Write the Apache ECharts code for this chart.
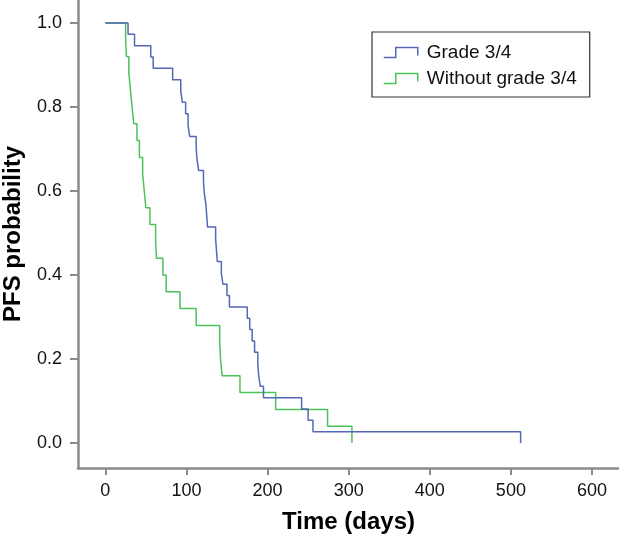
<!DOCTYPE html>
<html>
<head>
<meta charset="utf-8">
<script src="https://cdn.jsdelivr.net/npm/echarts@6/dist/echarts.min.js"></script>
<style>
html,body{margin:0;padding:0;background:#fff;}
#chart{width:619px;height:539px;}
</style>
</head>
<body>
<div id="chart"></div>
<script>
// Kaplan-Meier step data
var gradeTimes = [0,28,36,56,59,83,93,95,99,102,104,112,113,115,121,122,124,125,126,136,137,138,143,145,150,153,175,178,181,184,188,189,191,195,242,250,256,512];
var gradeSurv  = [1.000,0.973,0.946,0.919,0.892,0.865,0.838,0.811,0.784,0.757,0.730,0.703,0.676,0.649,0.622,0.595,0.568,0.541,0.514,0.486,0.459,0.432,0.405,0.378,0.351,0.324,0.297,0.270,0.243,0.216,0.189,0.162,0.135,0.108,0.081,0.054,0.027,0.000];
var withoutTimes = [0,25,26,29,31,33,35,39,42,46,48,50,55,62,63,71,75,92,112,141,142,144,166,210,274,304];
var withoutSurv  = [1.00,0.96,0.92,0.88,0.84,0.80,0.76,0.72,0.68,0.64,0.60,0.56,0.52,0.48,0.44,0.40,0.36,0.32,0.28,0.24,0.20,0.16,0.12,0.08,0.04,0.00];
var xTicks = [0,100,200,300,400,500,600];
var yTicks = [0,0.2,0.4,0.6,0.8,1.0];
var seriesNames = ['Grade 3/4','Without grade 3/4'];
var colors = ['#5467b4','#4cc25a'];

function pairs(t, s){ var out=[]; for(var i=0;i<t.length;i++) out.push([t[i], s[i]]); return out; }

var font = '"Liberation Sans", Arial, Helvetica, sans-serif';
var axisGray = '#8a8a8a';
var stepIcon = 'path://M0,10 L12,10 L12,0 L34,0 L34,8';

var chart = echarts.init(document.getElementById('chart'), null, {renderer:'canvas'});
chart.setOption({
  animation: false,
  backgroundColor: '#fff',
  grid: {left: 78, top: 0, right: 0, bottom: 71, containLabel: false, outerBoundsMode: 'none'},
  xAxis: {
    type: 'value', min: -33.7, max: 633.3,
    splitLine: {show: false},
    axisLine: {show: true, onZero: false, lineStyle: {color: axisGray, width: 2.5}},
    axisTick: {show: true, customValues: xTicks, length: 7, lineStyle: {color: axisGray, width: 2}},
    axisLabel: {customValues: xTicks, margin: 14, fontSize: 18, color: '#111', fontFamily: font},
    name: 'Time (days)', nameLocation: 'middle', nameGap: 42,
    nameTextStyle: {fontSize: 24, fontWeight: 'bold', color: '#000', fontFamily: font}
  },
  yAxis: {
    type: 'value', min: -0.0595, max: 1.0547,
    splitLine: {show: false},
    axisLine: {show: true, onZero: false, lineStyle: {color: axisGray, width: 2.5}},
    axisTick: {show: true, customValues: yTicks, length: 8, lineStyle: {color: axisGray, width: 2}},
    axisLabel: {customValues: yTicks, margin: 16, fontSize: 18, color: '#111', fontFamily: font,
      formatter: function(v){ return v.toFixed(1); }},
    name: 'PFS probability', nameLocation: 'middle', nameGap: 53,
    nameTextStyle: {fontSize: 24, fontWeight: 'bold', color: '#000', fontFamily: font}
  },
  legend: {
    orient: 'vertical', left: 372, top: 32,
    backgroundColor: '#fff', borderColor: '#333', borderWidth: 1.2,
    padding: [11, 13, 9, 11], itemGap: 7,
    itemWidth: 34, itemHeight: 10,
    textStyle: {fontSize: 19, color: '#111', fontFamily: font, padding: [0, 0, 0, 4]},
    data: [
      {name: seriesNames[0], icon: stepIcon, itemStyle: {color: 'transparent', borderColor: colors[0], borderWidth: 1.5}},
      {name: seriesNames[1], icon: stepIcon, itemStyle: {color: 'transparent', borderColor: colors[1], borderWidth: 1.5}}
    ]
  },
  series: [
    {name: seriesNames[1], type: 'line', step: 'end', showSymbol: false, symbol: 'none',
     data: pairs(withoutTimes, withoutSurv), color: colors[1],
     lineStyle: {color: colors[1], width: 1.5}},
    {name: seriesNames[0], type: 'line', step: 'end', showSymbol: false, symbol: 'none',
     data: pairs(gradeTimes, gradeSurv), color: colors[0],
     lineStyle: {color: colors[0], width: 1.5}}
  ]
});
</script>
</body>
</html>
